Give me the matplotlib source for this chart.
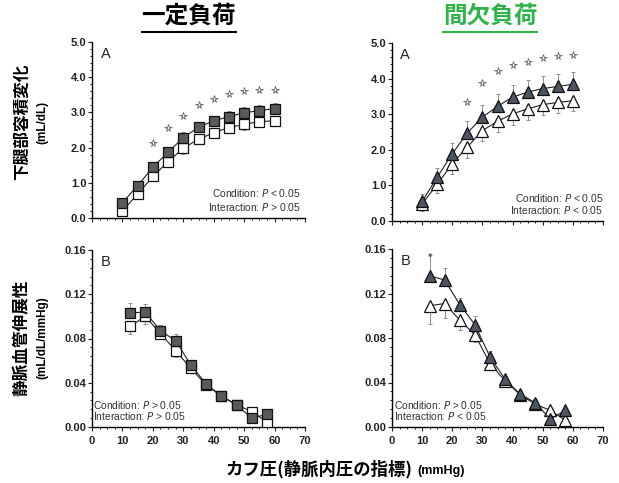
import matplotlib
matplotlib.use('Agg')
import matplotlib.pyplot as plt
from matplotlib.lines import Line2D
from matplotlib.ticker import MultipleLocator

plt.rcParams['font.family'] = ['Liberation Sans', 'Noto Sans CJK JP', 'DejaVu Sans']

# --- data ---
x_top = [10, 15, 20, 25, 30, 35, 40, 45, 50, 55, 60]
x_bot = [12.5, 17.5, 22.5, 27.5, 32.5, 37.5, 42.5, 47.5, 52.5, 57.5]

# 一定負荷 A (下腿部容積変化)
const_vol_filled = [0.44, 0.92, 1.44, 1.87, 2.28, 2.58, 2.76, 2.88, 2.99, 3.05, 3.11]
const_vol_open = [0.20, 0.68, 1.18, 1.60, 1.98, 2.24, 2.42, 2.57, 2.66, 2.74, 2.76]
const_vol_filled_err = [0.12, 0.12, 0.13, 0.14, 0.15, 0.15, 0.15, 0.15, 0.15, 0.15, 0.15]
const_vol_open_err = [0.12, 0.12, 0.13, 0.14, 0.15, 0.15, 0.15, 0.15, 0.15, 0.15, 0.15]
const_star_x = [20, 25, 30, 35, 40, 45, 50, 55, 60]
const_star_y = [2.14, 2.57, 2.90, 3.20, 3.38, 3.52, 3.60, 3.63, 3.65]

# 間欠負荷 A
inter_vol_filled = [0.55, 1.23, 1.89, 2.47, 2.92, 3.22, 3.48, 3.62, 3.72, 3.78, 3.84]
inter_vol_open = [0.48, 1.03, 1.61, 2.08, 2.54, 2.80, 3.01, 3.15, 3.27, 3.33, 3.38]
inter_vol_filled_err = [0.2, 0.25, 0.3, 0.35, 0.35, 0.35, 0.35, 0.35, 0.35, 0.35, 0.35]
inter_vol_open_err = [0.2, 0.25, 0.3, 0.3, 0.3, 0.3, 0.3, 0.3, 0.3, 0.3, 0.3]
inter_star_x = [25, 30, 35, 40, 45, 50, 55, 60]
inter_star_y = [3.34, 3.89, 4.21, 4.39, 4.47, 4.58, 4.63, 4.65]

# 一定負荷 B (静脈血管伸展性)
const_comp_filled = [0.103, 0.104, 0.087, 0.078, 0.056, 0.039, 0.028, 0.020, 0.008, 0.0115]
const_comp_open = [0.091, 0.100, 0.0845, 0.069, 0.053, 0.038, 0.028, 0.020, 0.014, 0.0045]
const_comp_filled_err = [0.009, 0.007, 0.005, 0.006, 0.004, 0.003, 0.002, 0.002, 0.002, 0.002]
const_comp_open_err = [0.007, 0.007, 0.005, 0.006, 0.004, 0.003, 0.002, 0.002, 0.002, 0.002]

# 間欠負荷 B
inter_comp_filled = [0.136, 0.132, 0.110, 0.092, 0.063, 0.043, 0.0295, 0.022, 0.007, 0.015]
inter_comp_open = [0.109, 0.111, 0.096, 0.083, 0.057, 0.0415, 0.029, 0.0205, 0.015, 0.006]
inter_comp_filled_err = [0.019, 0.011, 0.006, 0.008, 0.005, 0.003, 0.003, 0.003, 0.002, 0.002]
inter_comp_open_err = [0.016, 0.013, 0.009, 0.007, 0.005, 0.003, 0.003, 0.003, 0.002, 0.002]
inter_comp_star_x = [12.5]
inter_comp_star_y = [0.153]

W, H = 619, 483
fig = plt.figure(figsize=(W / 100, H / 100), dpi=100)


def px_axes(x0, x1, ytop, ybot):
    return fig.add_axes([x0 / W, 1 - ybot / H, (x1 - x0) / W, (ybot - ytop) / H])


ax_tl = px_axes(92, 305, 42, 218)
ax_tr = px_axes(392, 603, 43, 221)
ax_bl = px_axes(92, 305, 250, 427)
ax_br = px_axes(392, 603, 249, 427)

fill_sq = '#5a5a5a'
fill_tri = '#4b5662'
err_col = '#8a8f99'


def style(ax, top):
    for s in ['top', 'right']:
        ax.spines[s].set_visible(False)
    for s in ['left', 'bottom']:
        ax.spines[s].set_linewidth(1.0)
    ax.set_xlim(0, 70)
    ax.xaxis.set_major_locator(MultipleLocator(10))
    ax.xaxis.set_minor_locator(MultipleLocator(2.5))
    ax.tick_params(direction='out', length=3, width=0.8, labelsize=8, colors='#222222')
    ax.tick_params(which='minor', direction='out', length=1.5, width=0.6)
    ax.yaxis.set_minor_locator(MultipleLocator(0.2 if top else 0.008))
    if top:
        ax.set_ylim(0, 5.0)
        ax.set_yticks([0, 1, 2, 3, 4, 5])
        ax.set_yticklabels(['%.1f' % v for v in [0, 1, 2, 3, 4, 5]])
        ax.set_xticklabels([])
    else:
        ax.set_ylim(0, 0.16)
        ax.set_yticks([0, 0.04, 0.08, 0.12, 0.16])
        ax.set_yticklabels(['%.2f' % v for v in [0, 0.04, 0.08, 0.12, 0.16]])
    for lab in ax.get_xticklabels() + ax.get_yticklabels():
        lab.set_fontweight('bold')
    ax.tick_params(axis='y', pad=1)


def series(ax, x, y, err, marker, face, ms, up):
    if up:
        ax.errorbar(x, y, yerr=[[0] * len(err), err], fmt='none', ecolor=err_col,
                    elinewidth=0.7, capsize=1.5, capthick=0.7, zorder=2)
    else:
        ax.errorbar(x, y, yerr=[err, [0] * len(err)], fmt='none', ecolor=err_col,
                    elinewidth=0.7, capsize=1.5, capthick=0.7, zorder=2)
    ax.plot(x, y, color='#222222', lw=0.8, marker=marker, ms=ms, mfc=face,
            mec='#111111', mew=0.9, zorder=3 if face == 'white' else 4)


# top left
style(ax_tl, True)
series(ax_tl, x_top, const_vol_open, const_vol_open_err, 's', 'white', 7.5, False)
series(ax_tl, x_top, const_vol_filled, const_vol_filled_err, 's', fill_sq, 7.5, True)
ax_tl.plot(const_star_x, const_star_y, ls='none', marker='*', ms=5.5, mfc='white', mec='#666666', mew=0.6)

# top right
style(ax_tr, True)
series(ax_tr, x_top, inter_vol_open, inter_vol_open_err, '^', 'white', 9, False)
series(ax_tr, x_top, inter_vol_filled, inter_vol_filled_err, '^', fill_tri, 9, True)
ax_tr.plot(inter_star_x, inter_star_y, ls='none', marker='*', ms=5.5, mfc='white', mec='#666666', mew=0.6)

# bottom left
style(ax_bl, False)
series(ax_bl, x_bot, const_comp_open, const_comp_open_err, 's', 'white', 7.5, False)
series(ax_bl, x_bot, const_comp_filled, const_comp_filled_err, 's', fill_sq, 7.5, True)

# bottom right
style(ax_br, False)
series(ax_br, x_bot, inter_comp_open, inter_comp_open_err, '^', 'white', 9, False)
series(ax_br, x_bot, inter_comp_filled, inter_comp_filled_err, '^', fill_tri, 9, True)
for sx, sy in zip(inter_comp_star_x, inter_comp_star_y):
    ax_br.text(sx, sy, '*', ha='center', va='center', fontsize=8, color='#333333')

# panel letters
for ax in [ax_tl, ax_tr]:
    ax.text(0.04, 0.97, 'A', transform=ax.transAxes, ha='left', va='top', fontsize=10.5, color='#222222')
for ax in [ax_bl, ax_br]:
    ax.text(0.04, 0.97, 'B', transform=ax.transAxes, ha='left', va='top', fontsize=10.5, color='#222222')

# stats text
stat_kw = dict(fontsize=7.4, color='#333333')
ax_tl.text(0.98, 0.14, 'Condition: $\\it{P}$ < 0.05', transform=ax_tl.transAxes, ha='right', va='center', **stat_kw)
ax_tl.text(0.98, 0.065, 'Interaction: $\\it{P}$ > 0.05', transform=ax_tl.transAxes, ha='right', va='center', **stat_kw)
ax_tr.text(1.0, 0.13, 'Condition: $\\it{P}$ < 0.05', transform=ax_tr.transAxes, ha='right', va='center', **stat_kw)
ax_tr.text(1.0, 0.06, 'Interaction: $\\it{P}$ < 0.05', transform=ax_tr.transAxes, ha='right', va='center', **stat_kw)
ax_bl.text(0.005, 0.125, 'Condition: $\\it{P}$ > 0.05', transform=ax_bl.transAxes, ha='left', va='center', **stat_kw)
ax_bl.text(0.005, 0.06, 'Interaction: $\\it{P}$ > 0.05', transform=ax_bl.transAxes, ha='left', va='center', **stat_kw)
ax_br.text(0.01, 0.125, 'Condition: $\\it{P}$ > 0.05', transform=ax_br.transAxes, ha='left', va='center', **stat_kw)
ax_br.text(0.01, 0.06, 'Interaction: $\\it{P}$ < 0.05', transform=ax_br.transAxes, ha='left', va='center', **stat_kw)

# column titles with underline
cjk = ['Noto Sans CJK JP', 'DejaVu Sans']
fig.text(188 / W, 1 - 16 / H, '一定負荷', ha='center', va='center', fontsize=17,
         fontweight='bold', family=cjk, color='black')
fig.add_artist(Line2D([142 / W, 236 / W], [1 - 32 / H, 1 - 32 / H], color='black', lw=1.5))
fig.text(490 / W, 1 - 16 / H, '間欠負荷', ha='center', va='center', fontsize=17,
         fontweight='bold', family=cjk, color='#2db34a')
fig.add_artist(Line2D([443 / W, 537 / W], [1 - 32 / H, 1 - 32 / H], color='#2db34a', lw=1.5))

# y labels
fig.text(22 / W, 1 - 122 / H, '下腿部容積変化', rotation=90, ha='center', va='center',
         fontsize=12, fontweight='bold', family=cjk)
fig.text(42 / W, 1 - 122 / H, '(mL/dL)', rotation=90, ha='center', va='center',
         fontsize=8.5, fontweight='bold')
fig.text(22 / W, 1 - 338 / H, '静脈血管伸展性', rotation=90, ha='center', va='center',
         fontsize=12, fontweight='bold', family=cjk)
fig.text(42 / W, 1 - 338 / H, '(mL/dL/mmHg)', rotation=90, ha='center', va='center',
         fontsize=8.5, fontweight='bold')

# x label
fig.text(413 / W, 1 - 474 / H, 'カフ圧(静脈内圧の指標)', ha='right', va='baseline',
         fontsize=12.5, fontweight='bold', family=cjk)
fig.text(417 / W, 1 - 474 / H, '(mmHg)', ha='left', va='baseline',
         fontsize=9, fontweight='bold')

fig.savefig('out.png', dpi=100)
